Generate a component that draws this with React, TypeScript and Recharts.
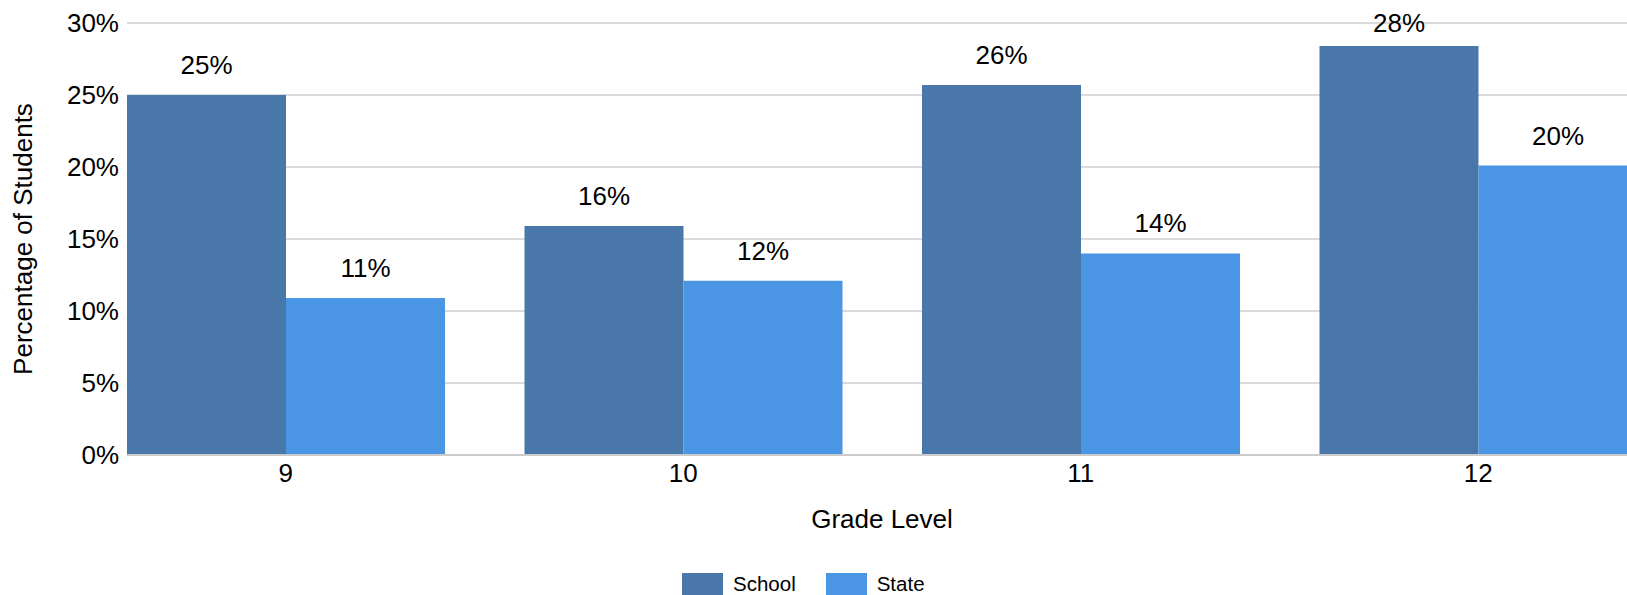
import React from 'react';
import { BarChart, Bar, XAxis, YAxis, CartesianGrid, Legend, LabelList } from 'recharts';

const grades = ['9', '10', '11', '12'];
const schoolValues = [25, 15.9, 25.7, 28.4];
const stateValues = [10.9, 12.1, 14.0, 20.1];
const yTicks = [0, 5, 10, 15, 20, 25, 30];
const seriesNames = ['School', 'State'];
const seriesColors = ['#4A77AA', '#4A96E5'];

const data = grades.map((g, i) => ({ grade: g, School: schoolValues[i], State: stateValues[i] }));

const FONT = 'Arial, "Liberation Sans", sans-serif';
const TEXT = '#000';

const BarValueLabel = (props: any) => {
  const { x, y, width, value } = props;
  const baseline = Math.max(y - 21, 32);
  return (
    <text x={x + width / 2} y={baseline} textAnchor="middle" fontFamily={FONT} fontSize={26} fill={TEXT}>
      {Math.round(value)}%
    </text>
  );
};

const YTitle = (props: any) => {
  const { viewBox } = props;
  const cx = viewBox.x + 23;
  const cy = viewBox.y + viewBox.height / 2;
  return (
    <text x={cx} y={cy} transform={`rotate(-90, ${cx}, ${cy})`} textAnchor="middle" dominantBaseline="central" fontFamily={FONT} fontSize={26} fill={TEXT}>
      Percentage of Students
    </text>
  );
};

const XTitle = (props: any) => {
  const { viewBox } = props;
  return (
    <text x={viewBox.x + viewBox.width / 2} y={viewBox.y + 73} textAnchor="middle" fontFamily={FONT} fontSize={26} fill={TEXT}>
      Grade Level
    </text>
  );
};

const LegendContent = (props: any) => {
  const { payload } = props;
  return (
    <div style={{ display: 'flex', alignItems: 'flex-start', fontFamily: FONT, fontSize: 20.5, color: TEXT }}>
      {payload.map((p: any, i: number) => (
        <div key={i} style={{ display: 'flex', alignItems: 'flex-start', marginRight: 30 }}>
          <div style={{ width: 41, height: 24, background: p.color, marginRight: 10 }} />
          <span style={{ lineHeight: '22px' }}>{p.value}</span>
        </div>
      ))}
    </div>
  );
};

export default function App() {
  return (
    <div style={{ position: 'absolute', left: 0, top: 0, width: 1627, height: 595, overflow: 'hidden', background: '#fff' }}>
      <BarChart
        width={1650}
        height={595}
        data={data}
        margin={{ top: 23, right: 13, bottom: 80, left: 0 }}
        barCategoryGap={40}
        barGap={0}
      >
        <CartesianGrid vertical={false} stroke="#dadada" strokeWidth={2} />
        <XAxis
          dataKey="grade"
          interval={0}
          padding={{ left: -40, right: -40 }}
          height={60}
          tickSize={0}
          tickMargin={9}
          axisLine={{ stroke: '#cccccc', strokeWidth: 2 }}
          tickLine={false}
          tick={{ fontFamily: FONT, fontSize: 26, fill: TEXT }}
          label={<XTitle />}
        />
        <YAxis
          domain={[0, 30]}
          ticks={yTicks}
          width={127}
          tickSize={0}
          tickMargin={8}
          axisLine={false}
          tickLine={false}
          tickFormatter={(v: number) => `${v}%`}
          tick={{ fontFamily: FONT, fontSize: 26, fill: TEXT }}
          label={<YTitle />}
        />
        <Legend
          layout="horizontal"
          verticalAlign="middle"
          align="center"
          wrapperStyle={{ left: 682, top: 573, width: 400, height: 30 }}
          content={<LegendContent />}
        />
        <Bar dataKey="School" name={seriesNames[0]} fill={seriesColors[0]} isAnimationActive={false}>
          <LabelList dataKey="School" content={<BarValueLabel />} />
        </Bar>
        <Bar dataKey="State" name={seriesNames[1]} fill={seriesColors[1]} isAnimationActive={false}>
          <LabelList dataKey="State" content={<BarValueLabel />} />
        </Bar>
      </BarChart>
    </div>
  );
}
